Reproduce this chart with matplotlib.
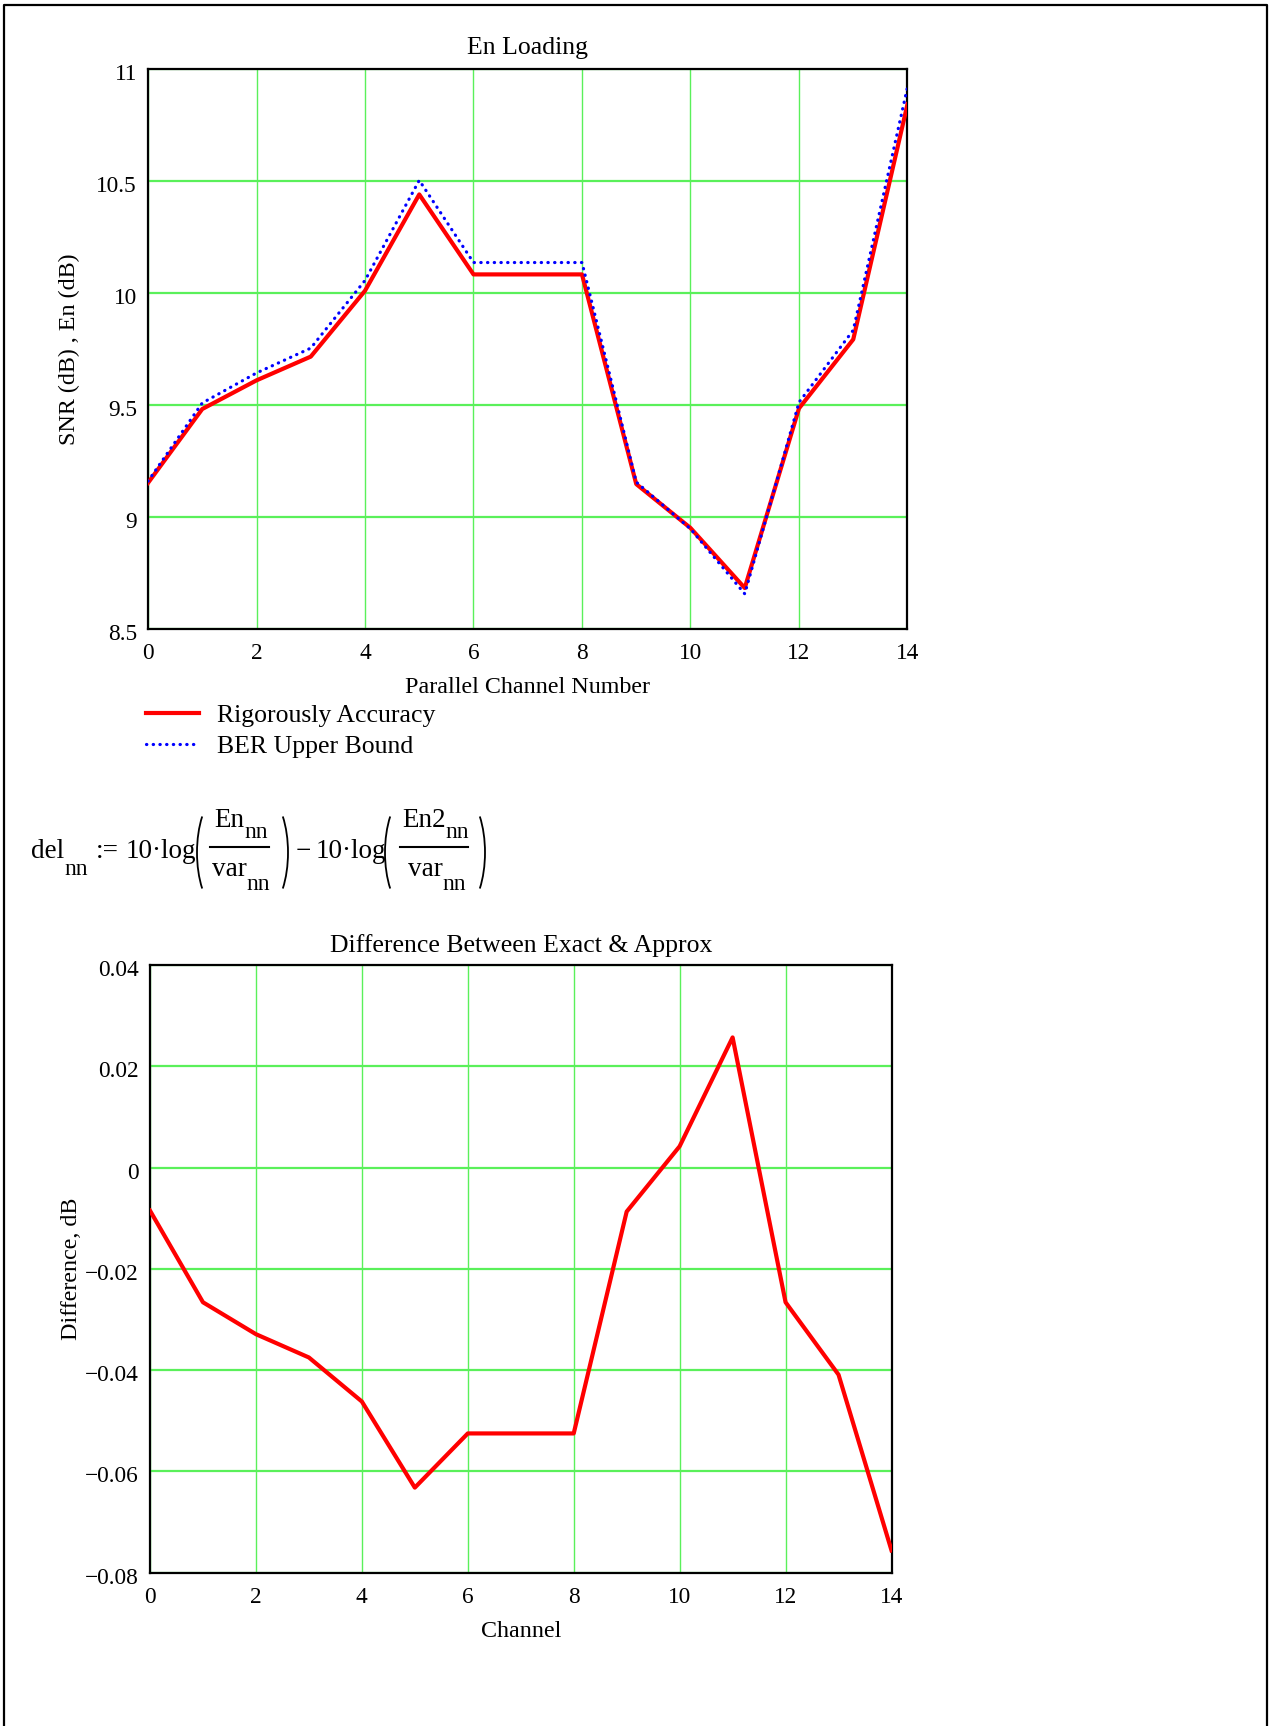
import matplotlib
matplotlib.use("Agg")
import matplotlib.pyplot as plt
from matplotlib.patches import Arc
from matplotlib.transforms import ScaledTranslation

plt.rcParams['font.family'] = ['Liberation Serif', 'DejaVu Serif']

# data
channels = list(range(15))
snr_rigorous = [9.152, 9.482, 9.610, 9.716, 10.010, 10.440, 10.083, 10.083,
                10.083, 9.147, 8.951, 8.683, 9.485, 9.793, 10.843]
snr_ber_bound = [9.160, 9.509, 9.643, 9.754, 10.056, 10.503, 10.136, 10.136,
                 10.136, 9.156, 8.947, 8.657, 9.512, 9.834, 10.919]
difference = [-0.0085, -0.0266, -0.0329, -0.0375, -0.0462, -0.0632, -0.0525, -0.0525,
              -0.0525, -0.0087, 0.0042, 0.0257, -0.0266, -0.0409, -0.0756]

x_ticks = [0, 2, 4, 6, 8, 10, 12, 14]
top_yticks = [8.5, 9, 9.5, 10, 10.5, 11]
top_ylabels = ['8.5', '9', '9.5', '10', '10.5', '11']
bot_yticks = [-0.08, -0.06, -0.04, -0.02, 0, 0.02, 0.04]
bot_ylabels = ['\u22120.08', '\u22120.06', '\u22120.04', '\u22120.02', '0', '0.02', '0.04']

grid_green = '#5af05a'

fig = plt.figure(figsize=(12.7, 17.26), dpi=100)

# overlay in pixel units for the page frame and the formula
page = fig.add_axes([0, 0, 1, 1])
page.set_xlim(0, 1270)
page.set_ylim(1726, 0)
page.axis('off')
page.plot([4, 4, 1267, 1267], [1726, 5, 5, 1726], color='black', lw=1.6)


def style_axes(ax, yticks, ylabels, ylim):
    ax.set_xlim(0, 14)
    ax.set_ylim(*ylim)
    ax.set_xticks(x_ticks)
    ax.set_yticks(yticks)
    ax.set_yticklabels(ylabels)
    ax.tick_params(length=0, labelsize=16.8, pad=8)
    ax.tick_params(axis='x', pad=10)
    for lab in ax.get_yticklabels():
        lab.set_transform(lab.get_transform() + ScaledTranslation(0, -0.03, fig.dpi_scale_trans))
    ax.xaxis.grid(True, color=grid_green, lw=1.0)
    ax.yaxis.grid(True, color=grid_green, lw=1.6)
    ax.set_axisbelow(True)
    for s in ax.spines.values():
        s.set_linewidth(1.6)
        s.set_zorder(1.5)


# top chart
ax1 = fig.add_axes([148/1270, 1 - 629/1726, 759.5/1270, 560/1726])
style_axes(ax1, top_yticks, top_ylabels, (8.5, 11))
l1, = ax1.plot(channels, snr_rigorous, color='red', lw=3.0, zorder=3)
l2, = ax1.plot(channels, snr_ber_bound, color='blue', lw=2.3, linestyle=(0, (0.1, 2.0)),
               dash_capstyle='round', zorder=4)
ax1.set_title('En Loading', fontsize=18.5, y=1.026, pad=0)
ax1.set_xlabel('Parallel Channel Number', fontsize=17.3)
ax1.xaxis.set_label_coords(0.5, -0.085)
ax1.set_ylabel('SNR (dB) , En (dB)', fontsize=17.3)
ax1.yaxis.set_label_coords(-0.0895, 0.5)

ax1.legend([l1, l2], ['Rigorously Accuracy', 'BER Upper Bound'], loc='upper left',
           bbox_to_anchor=(146/1270, 1 - 704.5/1726), bbox_transform=fig.transFigure,
           frameon=False, fontsize=18.5, handlelength=2.05, handletextpad=0.72,
           labelspacing=0.28, borderpad=0, borderaxespad=0)

# formula: del_nn := 10·log(En_nn/var_nn) - 10·log(En2_nn/var_nn)
fs, fs_sub = 19.5, 17
def txt(x, y, s, size=fs):
    page.text(x, y, s, fontsize=size, ha='left', va='baseline')

def paren(x0, x1, left=True):
    a = 2 * (x1 - x0)
    cx = x0 + a if left else x1 - a
    t1, t2 = (120, 240) if left else (-60, 60)
    page.add_patch(Arc((cx, 852.5), 2 * a, 2 * 60, theta1=t1, theta2=t2, color='black', lw=1.3))

txt(31.5, 858, 'del')
txt(64.5, 875, 'nn', fs_sub)
txt(95.5, 858, ':=')
txt(125.5, 858, '10\u00b7log')
paren(197, 210, left=True)
page.plot([210, 269], [846.5, 846.5], color='black', lw=1.5)
txt(214, 827, 'En')
txt(244, 838, 'nn', fs_sub)
txt(212.5, 876, 'var')
txt(246.5, 890, 'nn', fs_sub)
paren(275, 288, left=False)
txt(295.5, 858, '\u2212')
txt(315.5, 858, '10\u00b7log')
paren(385, 398, left=True)
page.plot([400, 468], [846.5, 846.5], color='black', lw=1.5)
txt(402, 827, 'En2')
txt(445.5, 838, 'nn', fs_sub)
txt(408, 876, 'var')
txt(442.5, 890, 'nn', fs_sub)
paren(472, 485, left=False)

# bottom chart
ax2 = fig.add_axes([150/1270, 1 - 1572.7/1726, 741.5/1270, 607.7/1726])
style_axes(ax2, bot_yticks, bot_ylabels, (-0.08, 0.04))
ax2.plot(channels, difference, color='red', lw=3.0, zorder=3)
ax2.set_title('Difference Between Exact & Approx', fontsize=18.5, y=1.022, pad=0)
ax2.set_xlabel('Channel', fontsize=17.3)
ax2.xaxis.set_label_coords(0.5, -0.0787)
ax2.set_ylabel('Difference, dB', fontsize=17.3)
ax2.yaxis.set_label_coords(-0.0917, 0.5)

fig.savefig('out.png', dpi=100)
